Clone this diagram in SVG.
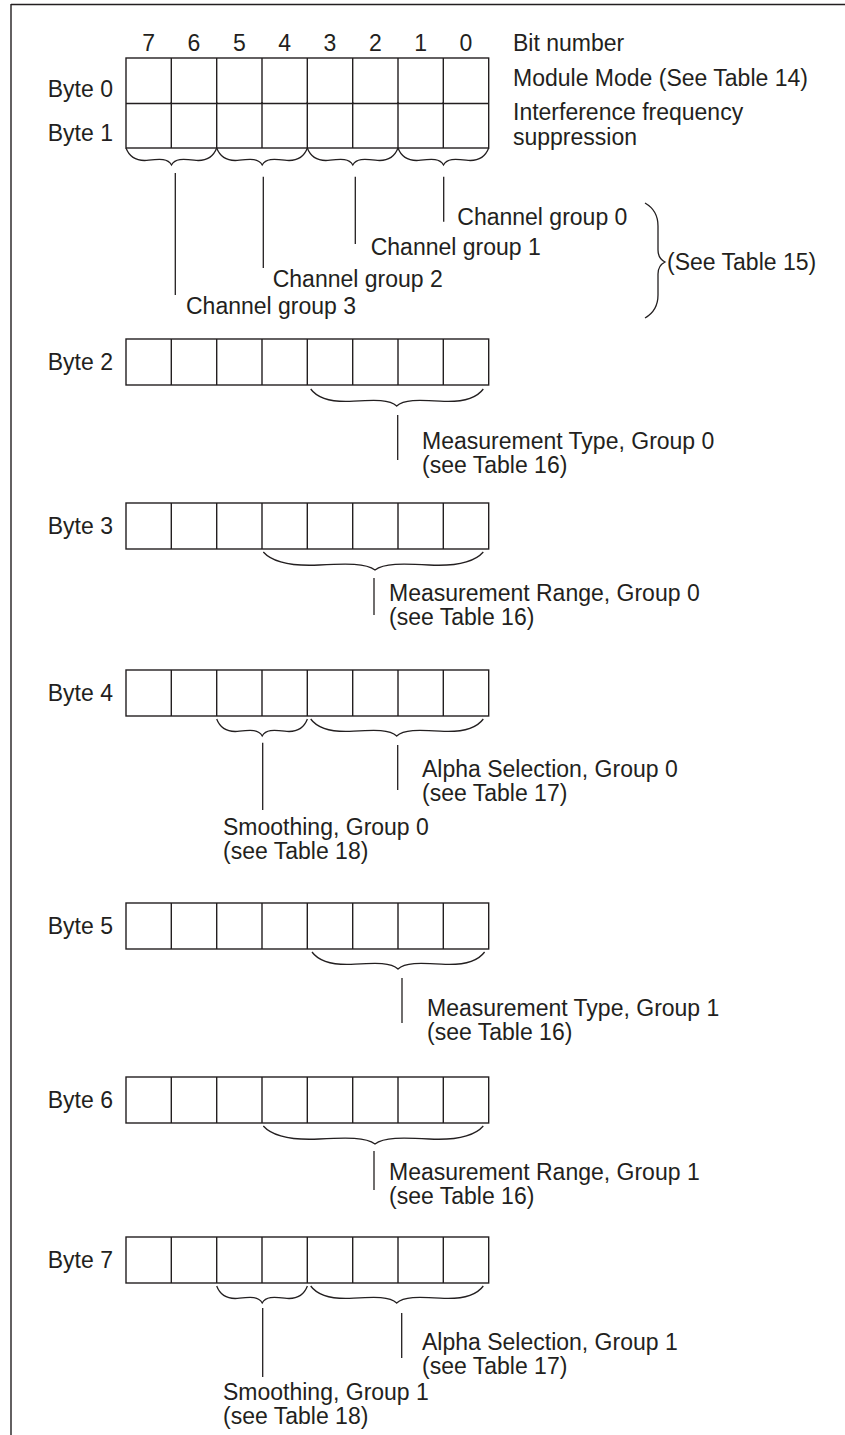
<svg xmlns="http://www.w3.org/2000/svg" width="845" height="1435" viewBox="0 0 845 1435">
<style>
text{font-family:"Liberation Sans",Arial,sans-serif;font-size:23px;fill:#231f20}
.lbl{text-anchor:end}
.bit{text-anchor:middle}
.g{fill:none;stroke:#231f20;stroke-width:1.4}
.c{fill:none;stroke:#231f20;stroke-width:1.3}
</style>
<defs>
<path id="braceA" d="M0,0 C3.6,9.4 11.4,13.6 22.8,12.2 C34.1,10.9 41.9,10.5 45.5,17 C49.1,10.5 56.8,10.9 68.1,12.2 C79.4,13.6 87.1,9.4 90.7,0"/>
<path id="braceB" d="M0,0 C6.9,9.4 21.5,13.6 43,12.2 C64.5,10.9 79.1,10.5 86,17 C92.9,10.5 107.7,10.9 129.3,12.2 C151,13.6 165.7,9.4 172.6,0"/>
<path id="braceC" d="M0,0 C8.9,9.9 27.9,14.4 55.9,13 C83.8,11.5 102.8,11.2 111.7,18 C120.4,11.2 138.8,11.5 165.9,13 C192.9,14.4 211.3,9.9 220,0"/>
<path id="cols" d="M171.3,0 v46 M216.7,0 v46 M262,0 v46 M307.3,0 v46 M352.7,0 v46 M398,0 v46 M443.3,0 v46"/>
</defs>

<g id="frame">
<path class="g" d="M11,4.5 H845 M11,4 V1435"/>
</g>

<g id="bits">
<text class="bit" x="148.7" y="51">7</text>
<text class="bit" x="194" y="51">6</text>
<text class="bit" x="239.3" y="51">5</text>
<text class="bit" x="284.7" y="51">4</text>
<text class="bit" x="330" y="51">3</text>
<text class="bit" x="375.3" y="51">2</text>
<text class="bit" x="420.7" y="51">1</text>
<text class="bit" x="466" y="51">0</text>
<text x="513" y="51">Bit number</text>
</g>

<g id="byte01">
<rect class="g" x="126" y="58" width="362.7" height="90"/>
<path class="g" d="M126,103.5 H488.7"/>
<use href="#cols" class="g" transform="translate(0,58)"/>
<use href="#cols" class="g" transform="translate(0,102)"/>
<text class="lbl" x="113" y="97">Byte 0</text>
<text class="lbl" x="113" y="141">Byte 1</text>
<text x="513" y="86">Module Mode (See Table 14)</text>
<text x="513" y="120">Interference frequency</text>
<text x="513" y="145">suppression</text>
</g>

<g id="byte2">
<rect class="g" x="126" y="339" width="362.7" height="46"/>
<use href="#cols" class="g" transform="translate(0,339)"/>
<text class="lbl" x="113" y="370">Byte 2</text>
<text x="422" y="449">Measurement Type, Group 0</text>
<text x="422" y="473">(see Table 16)</text>
</g>

<g id="byte3">
<rect class="g" x="126" y="503" width="362.7" height="46"/>
<use href="#cols" class="g" transform="translate(0,503)"/>
<text class="lbl" x="113" y="534">Byte 3</text>
<text x="389" y="601">Measurement Range, Group 0</text>
<text x="389" y="625">(see Table 16)</text>
</g>

<g id="byte4">
<rect class="g" x="126" y="670" width="362.7" height="46"/>
<use href="#cols" class="g" transform="translate(0,670)"/>
<text class="lbl" x="113" y="701">Byte 4</text>
<text x="422" y="777">Alpha Selection, Group 0</text>
<text x="422" y="801">(see Table 17)</text>
<text x="223" y="835">Smoothing, Group 0</text>
<text x="223" y="859">(see Table 18)</text>
</g>

<g id="byte5">
<rect class="g" x="126" y="903" width="362.7" height="46"/>
<use href="#cols" class="g" transform="translate(0,903)"/>
<text class="lbl" x="113" y="934">Byte 5</text>
<text x="427" y="1016">Measurement Type, Group 1</text>
<text x="427" y="1040">(see Table 16)</text>
</g>

<g id="byte6">
<rect class="g" x="126" y="1077" width="362.7" height="46"/>
<use href="#cols" class="g" transform="translate(0,1077)"/>
<text class="lbl" x="113" y="1108">Byte 6</text>
<text x="389" y="1180">Measurement Range, Group 1</text>
<text x="389" y="1204">(see Table 16)</text>
</g>

<g id="byte7">
<rect class="g" x="126" y="1237" width="362.7" height="46"/>
<use href="#cols" class="g" transform="translate(0,1237)"/>
<text class="lbl" x="113" y="1268">Byte 7</text>
<text x="422" y="1350">Alpha Selection, Group 1</text>
<text x="422" y="1374">(see Table 17)</text>
<text x="223" y="1400">Smoothing, Group 1</text>
<text x="223" y="1424">(see Table 18)</text>
</g>

<g id="channel-groups">
<text x="457.3" y="225">Channel group 0</text>
<text x="370.7" y="255">Channel group 1</text>
<text x="272.7" y="287">Channel group 2</text>
<text x="186" y="314">Channel group 3</text>
<text x="667" y="270">(See Table 15)</text>
</g>

<g id="connectors" class="c">
<use href="#braceA" transform="translate(126,148)"/>
<use href="#braceA" transform="translate(216.7,148)"/>
<use href="#braceA" transform="translate(307.3,148)"/>
<use href="#braceA" transform="translate(398,148)"/>
<path d="M175.3,173 V295 M263.3,176.7 V268 M355.3,176.7 V244 M443.7,176.7 V221.7"/>
<path d="M645,203 C652,207 658,214 658,226 L658,250 C658,256 661,260 665,262 C661,264 658,268 658,274 L658,295 C658,307 652,314 645,318"/>
<use href="#braceB" transform="translate(310.7,389)"/>
<path d="M397.7,415 V460"/>
<use href="#braceC" transform="translate(263.3,552)"/>
<path d="M374,578 V615"/>
<use href="#braceA" transform="translate(216.7,719)"/>
<use href="#braceB" transform="translate(310.7,719)"/>
<path d="M262.7,742.7 V810 M397.7,745 V790"/>
<use href="#braceB" transform="translate(312,952)"/>
<path d="M402,978 V1023"/>
<use href="#braceC" transform="translate(263.3,1126)"/>
<path d="M374,1151 V1190"/>
<use href="#braceA" transform="translate(216.7,1286)"/>
<use href="#braceB" transform="translate(310.7,1286)"/>
<path d="M262.7,1308 V1377 M401.7,1313 V1358"/>
</g>
</svg>
